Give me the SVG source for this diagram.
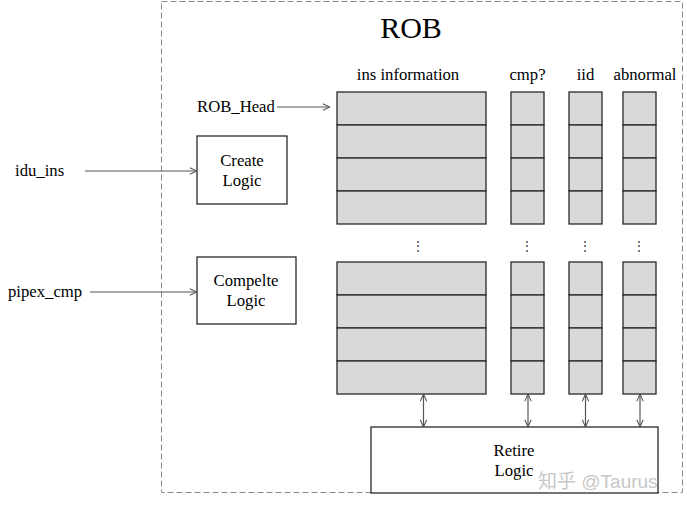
<svg xmlns="http://www.w3.org/2000/svg" width="687" height="508" viewBox="0 0 687 508">
<style>
text{font-family:"Liberation Serif","Times New Roman",serif;fill:#000;font-size:16.7px}
.c{text-anchor:middle}
.cell{fill:#d9d9d9;stroke:#2a2a2a;stroke-width:1.3}
.box{fill:#fff;stroke:#2a2a2a;stroke-width:1.3}
.ln{stroke:#555;stroke-width:1.2;fill:none}
.dots{fill:#333;font-size:12px}
</style>
<defs>
<marker id="ah" viewBox="0 0 10 10" refX="10" refY="5" markerWidth="8" markerHeight="8" markerUnits="userSpaceOnUse" orient="auto-start-reverse">
<polyline points="1,1 10,5 1,9" fill="none" stroke="#555" stroke-width="1.3"/>
</marker>
</defs>
<rect id="rob" x="161.5" y="1.5" width="521" height="491" fill="none" stroke="#8a8a8a" stroke-width="1" stroke-dasharray="6,3"/>
<text x="411" y="38" class="c" style="font-size:30px">ROB</text>
<text x="408" y="80" class="c">ins information</text>
<text x="527.5" y="80" class="c">cmp?</text>
<text x="585.5" y="80" class="c">iid</text>
<text x="645" y="80" class="c">abnormal</text>
<text x="197" y="112">ROB_Head</text>
<text x="15" y="176">idu_ins</text>
<text x="8" y="297">pipex_cmp</text>

<g id="table-top">
<rect class="cell" x="337" y="92" width="149" height="33"/><rect class="cell" x="337" y="125" width="149" height="33"/><rect class="cell" x="337" y="158" width="149" height="33"/><rect class="cell" x="337" y="191" width="149" height="33"/>
<rect class="cell" x="511" y="92" width="33" height="33"/><rect class="cell" x="511" y="125" width="33" height="33"/><rect class="cell" x="511" y="158" width="33" height="33"/><rect class="cell" x="511" y="191" width="33" height="33"/>
<rect class="cell" x="569" y="92" width="33" height="33"/><rect class="cell" x="569" y="125" width="33" height="33"/><rect class="cell" x="569" y="158" width="33" height="33"/><rect class="cell" x="569" y="191" width="33" height="33"/>
<rect class="cell" x="623" y="92" width="33" height="33"/><rect class="cell" x="623" y="125" width="33" height="33"/><rect class="cell" x="623" y="158" width="33" height="33"/><rect class="cell" x="623" y="191" width="33" height="33"/>
</g>
<g id="dots">
<text class="c dots" x="418" y="250">⋮</text>
<text class="c dots" x="526.5" y="250">⋮</text>
<text class="c dots" x="584.5" y="250">⋮</text>
<text class="c dots" x="638.5" y="250">⋮</text>
</g>
<g id="table-bottom">
<rect class="cell" x="337" y="262" width="149" height="33"/><rect class="cell" x="337" y="295" width="149" height="33"/><rect class="cell" x="337" y="328" width="149" height="33"/><rect class="cell" x="337" y="361" width="149" height="33"/>
<rect class="cell" x="511" y="262" width="33" height="33"/><rect class="cell" x="511" y="295" width="33" height="33"/><rect class="cell" x="511" y="328" width="33" height="33"/><rect class="cell" x="511" y="361" width="33" height="33"/>
<rect class="cell" x="569" y="262" width="33" height="33"/><rect class="cell" x="569" y="295" width="33" height="33"/><rect class="cell" x="569" y="328" width="33" height="33"/><rect class="cell" x="569" y="361" width="33" height="33"/>
<rect class="cell" x="623" y="262" width="33" height="33"/><rect class="cell" x="623" y="295" width="33" height="33"/><rect class="cell" x="623" y="328" width="33" height="33"/><rect class="cell" x="623" y="361" width="33" height="33"/>
</g>
<g id="create-logic">
<rect class="box" x="197" y="136" width="90" height="68"/>
<text class="c" x="242" y="166">Create</text>
<text class="c" x="242" y="186">Logic</text>
</g>
<g id="complete-logic">
<rect class="box" x="197" y="257" width="99" height="67"/>
<text class="c" x="246" y="286">Compelte</text>
<text class="c" x="246" y="306">Logic</text>
</g>
<g id="retire-logic">
<rect class="box" x="371" y="427" width="287" height="66"/>
<text class="c" x="514" y="456">Retire</text>
<text class="c" x="514" y="476">Logic</text>
</g>
<g id="connectors">
<line class="ln" x1="277" y1="107" x2="330" y2="107" marker-end="url(#ah)"/>
<line class="ln" x1="85" y1="171" x2="197" y2="171" marker-end="url(#ah)"/>
<line class="ln" x1="90" y1="292" x2="197" y2="292" marker-end="url(#ah)"/>
<line class="ln" x1="423.5" y1="394" x2="423.5" y2="427" marker-start="url(#ah)" marker-end="url(#ah)"/>
<line class="ln" x1="528" y1="394" x2="528" y2="427" marker-start="url(#ah)" marker-end="url(#ah)"/>
<line class="ln" x1="585.5" y1="394" x2="585.5" y2="427" marker-start="url(#ah)" marker-end="url(#ah)"/>
<line class="ln" x1="640" y1="394" x2="640" y2="427" marker-start="url(#ah)" marker-end="url(#ah)"/>
</g>
<text x="538" y="488" style="font-family:'Liberation Sans','Noto Sans CJK SC',sans-serif;font-size:19px;fill:#c8c8c8">知乎 @Taurus</text>
</svg>
